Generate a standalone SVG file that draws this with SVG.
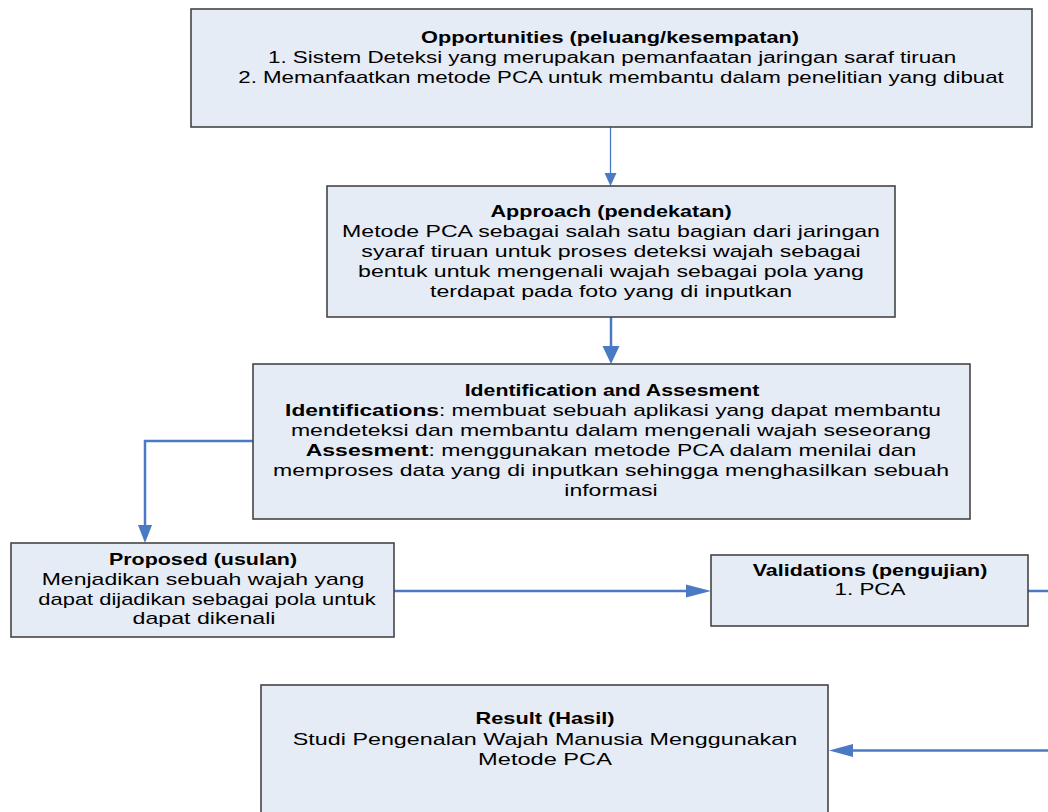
<svg xmlns="http://www.w3.org/2000/svg" width="1048" height="812" viewBox="0 0 1048 812">
<style>
.box{fill:#E6ECF6;stroke:#454545;stroke-width:1.6}
text{font-family:"Liberation Sans",Arial,sans-serif;font-size:16px;fill:#000;text-anchor:middle}
.b{font-weight:bold}
.c{fill:none;stroke:#4A7AC4;stroke-width:2.5}
.thin{stroke-width:1.3}
.ah{fill:#4A7AC4;stroke:none}
</style>
<rect width="1048" height="812" fill="#FFFFFF"/>
<g id="connectors">
<line class="c thin" x1="610.5" y1="127" x2="610.5" y2="175"/>
<polygon class="ah" points="604.5,173 616.5,173 610.5,186"/>
<line class="c" x1="611" y1="317" x2="611" y2="348"/>
<polygon class="ah" points="602.5,346 619.5,346 611,364"/>
<polyline class="c" points="253,441 145,441 145,527"/>
<polygon class="ah" points="138,525 152,525 145,543"/>
<line class="c" x1="394" y1="591" x2="688" y2="591"/>
<polygon class="ah" points="686,584.5 686,597.5 711,591"/>
<line class="c" x1="1028" y1="591" x2="1048" y2="591"/>
<line class="c" x1="1048" y1="750.5" x2="850" y2="750.5"/>
<polygon class="ah" points="853,744 853,757 829,750.5"/>
</g>
<g id="opportunities">
<rect class="box" x="191" y="9" width="841" height="118"/>
<text class="b" transform="translate(610,43) scale(1.36,1)">Opportunities (peluang/kesempatan)</text>
<text transform="translate(612,63) scale(1.40,1)">1. Sistem Deteksi yang merupakan pemanfaatan jaringan saraf tiruan</text>
<text transform="translate(621,83) scale(1.394,1)">2. Memanfaatkan metode PCA untuk membantu dalam penelitian yang dibuat</text>
</g>
<g id="approach">
<rect class="box" x="327" y="186" width="568" height="131"/>
<text class="b" transform="translate(611,216.5) scale(1.35,1)">Approach (pendekatan)</text>
<text transform="translate(611,236.5) scale(1.444,1)">Metode PCA sebagai salah satu bagian dari jaringan</text>
<text transform="translate(611,256.5) scale(1.444,1)">syaraf tiruan untuk proses deteksi wajah sebagai</text>
<text transform="translate(611,276.5) scale(1.444,1)">bentuk untuk mengenali wajah sebagai pola yang</text>
<text transform="translate(611,296.5) scale(1.444,1)">terdapat pada foto yang di inputkan</text>
</g>
<g id="identification">
<rect class="box" x="253" y="364" width="717" height="155"/>
<text class="b" transform="translate(612,396) scale(1.33,1)">Identification and Assesment</text>
<text transform="translate(613,415.5) scale(1.42,1)"><tspan class="b">Identifications</tspan>: membuat sebuah aplikasi yang dapat membantu</text>
<text transform="translate(611,435.5) scale(1.44,1)">mendeteksi dan membantu dalam mengenali wajah seseorang</text>
<text transform="translate(611,455.5) scale(1.44,1)"><tspan class="b">Assesment</tspan>: menggunakan metode PCA dalam menilai dan</text>
<text transform="translate(611,475.5) scale(1.44,1)">memproses data yang di inputkan sehingga menghasilkan sebuah</text>
<text transform="translate(611,495.5) scale(1.44,1)">informasi</text>
</g>
<g id="proposed">
<rect class="box" x="11" y="543" width="383" height="94"/>
<text class="b" transform="translate(203,565) scale(1.34,1)">Proposed (usulan)</text>
<text transform="translate(203,585) scale(1.44,1)">Menjadikan sebuah wajah yang</text>
<text transform="translate(207,604.5) scale(1.37,1)">dapat dijadikan sebagai pola untuk</text>
<text transform="translate(204,624) scale(1.45,1)">dapat dikenali</text>
</g>
<g id="validations">
<rect class="box" x="711" y="555" width="317" height="71"/>
<text class="b" transform="translate(870,576) scale(1.34,1)">Validations (pengujian)</text>
<text transform="translate(870,595) scale(1.40,1)">1. PCA</text>
</g>
<g id="result">
<rect class="box" x="261" y="685" width="567" height="140"/>
<text class="b" transform="translate(545,724) scale(1.36,1)">Result (Hasil)</text>
<text transform="translate(545,745) scale(1.457,1)">Studi Pengenalan Wajah Manusia Menggunakan</text>
<text transform="translate(545,765) scale(1.475,1)">Metode PCA</text>
</g>
</svg>
